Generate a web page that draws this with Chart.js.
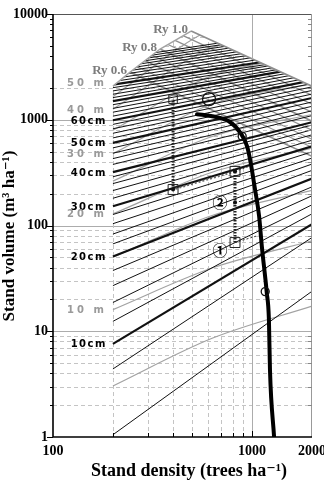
<!DOCTYPE html>
<html>
<head>
<meta charset="utf-8">
<script src="https://cdn.jsdelivr.net/npm/chart.js@4.4.1/dist/chart.umd.min.js"></script>
<style>
  html, body { margin: 0; padding: 0; background: #fff; }
  #wrap { width: 324px; height: 480px; position: relative; }
</style>
</head>
<body>
<div id="wrap"><canvas id="chart"></canvas></div>
<script>
// densities (trees/ha) where the guide lines are read
const startDensity = 200;
const midDensity = 630;
const endDensity = 2000;

// equal mean DBH lines (cm): volume at 200 and at 2000 trees/ha
// (the largest ones start above the 50 m edge and are cut by the mask)
const diamCm = [6, 8, 10, 12, 14, 16, 18, 20, 22, 24, 26, 28, 30, 32, 34, 36, 38, 40,
                42, 44, 46, 48, 50, 52, 54, 56, 58, 60, 62, 64, 66, 68, 70, 72, 74, 76,
                78, 80, 82, 84, 86, 88, 90, 92, 94, 96, 98, 100];
const diamVolStart = [1.05, 4.4, 7.6, 12.4, 18.7, 27, 37.5, 51, 67, 83, 104, 127, 152, 181, 214, 249, 289, 320,
                      378, 429, 483, 542, 605, 673, 745, 822, 904, 990, 1082, 1179, 1281, 1388, 1502, 1620, 1744, 1875,
                      2011, 2152, 2297, 2447, 2602, 2760, 2920, 3084, 3251, 3418, 3589, 3753];
const diamVolEnd = [23.9, 77, 103, 129, 157, 191, 232, 278, 332, 381, 434, 497, 560, 640, 721, 804, 891, 948,
                    1094, 1216, 1340, 1472, 1607, 1750, 1892, 2046, 2203, 2360, 2523, 2690, 2864, 3027, 3214, 3388, 3573, 3758,
                    3870, 4140, 4420, 4710, 5010, 5310, 5620, 5935, 6250, 6580, 6900, 7225];
const diamThick = [10, 20, 30, 40, 50, 60, 70, 80];
const diamLabelled = [60, 50, 40, 30, 20, 10];

// equal mean height lines (m)
const heightM = [5, 10, 15, 20, 25, 30, 35, 40, 45];
const heightVolStart = [3.04, 16.0, 50.2, 128.8, 263, 478, 795, 1259, 1660];
const heightVolMid = [8.58, 39.6, 124.4, 319, 695, 1409, 2612, 4808, 7210];
const heightVolEnd = [17.3, 71.5, 215, 539, 1122, 2180, 4045, 7430, 11150];
const heightLabelled = [40, 30, 20, 10];

// 50 m line = upper-left edge of the diagram
const topLineDensity = [200, 244, 345, 494];
const topLineVol = [2080, 2820, 4660, 6900];

// equal yield index (Ry) lines
const ryValues = [1.0, 0.95, 0.9, 0.85, 0.8, 0.75, 0.7, 0.65, 0.6];
const ryStartDensity = [494, 450, 410, 378, 345, 314, 290, 264, 244];
const ryStartVol = [6900, 6240, 5635, 5150, 4660, 4078, 3625, 3171, 2820];
const ryEndVol = [2080, 1708, 1403, 1178, 968, 795, 653, 549, 451];
const ryLabelled = [1.0, 0.8, 0.6];

// natural thinning curve (thick)
const curveDensity = [529, 630, 765, 870, 944, 977, 1035, 1085, 1120, 1185, 1215, 1230, 1290];
const curveVol = [1128, 1080, 968, 760, 561, 422, 219, 122, 63, 23.2, 12.9, 4.32, 1];

// thinning example: D -> C (growth), C -> B (thinning), B -> A (growth)
const pathDensity = [821, 821, 401, 401];
const pathVol = [69, 325, 219, 1565];
const midDotVol = 165;
const arrowStartVol = [69, 165, 325];
const arrowEndDensity = [1073, 1012, 1000];
const arrowEndVol = [80.4, 180, 371];

// open circles
const circleDensity = [608, 892, 1164];
const circleVol = [1565, 698, 23.7];
const circleSize = [6.5, 4, 4];

const xTickLabels = [100, 1000, 2000];
const yTickLabels = [1, 10, 100, 1000, 10000];

const serif = "'Liberation Serif', 'DejaVu Serif', serif";
const gothic = "'DejaVu Sans', 'Noto Sans', sans-serif";

const pts = (xs, ys) => xs.map((v, i) => ({ x: v, y: ys[i] }));

const datasets = [];

// height lines (grey)
heightM.forEach((h, i) => {
    datasets.push({
        label: h + ' m',
        data: [
            { x: startDensity, y: heightVolStart[i] },
            { x: midDensity, y: heightVolMid[i] },
            { x: endDensity, y: heightVolEnd[i] }
        ],
        borderColor: '#a2a2a2',
        borderWidth: 1.2,
        cubicInterpolationMode: 'monotone',
        order: 30
    });
});

// Ry lines (grey)
ryValues.forEach((r, i) => {
    datasets.push({
        label: 'Ry ' + r,
        data: [
            { x: ryStartDensity[i], y: ryStartVol[i] },
            { x: endDensity, y: ryEndVol[i] }
        ],
        borderColor: '#8e8e8e',
        borderWidth: ryLabelled.includes(r) ? 1.7 : 1.2,
        order: i === 0 ? 8 : 25
    });
});

// DBH lines (black)
diamCm.forEach((d, i) => {
    datasets.push({
        label: d + 'cm',
        data: [
            { x: startDensity, y: diamVolStart[i] },
            { x: endDensity, y: diamVolEnd[i] }
        ],
        borderColor: '#111',
        borderWidth: diamThick.includes(d) ? 2.2 : 1,
        order: 20
    });
});

// white mask above the 50 m line and Ry 1.0 line
datasets.push({
    label: 'mask',
    data: [{ x: 100, y: topLineVol[0] }]
        .concat(pts(topLineDensity, topLineVol))
        .concat([{ x: endDensity, y: ryEndVol[0] }]),
    borderColor: 'rgba(0,0,0,0)',
    borderWidth: 0,
    backgroundColor: '#ffffff',
    fill: 'end',
    order: 10
});

// 50 m line on top of the mask edge
datasets.push({
    label: '50 m',
    data: pts(topLineDensity, topLineVol),
    borderColor: '#a2a2a2',
    borderWidth: 1.4,
    order: 8
});

// thinning example path
datasets.push({
    label: 'growth 1',
    data: pts(pathDensity.slice(0, 2), pathVol.slice(0, 2)),
    borderColor: '#222',
    borderWidth: 3,
    borderDash: [1.5, 1.5],
    order: 5
});
datasets.push({
    label: 'thinning',
    data: pts(pathDensity.slice(1, 3), pathVol.slice(1, 3)),
    borderColor: '#666',
    borderWidth: 2,
    borderDash: [2, 2],
    order: 5
});
datasets.push({
    label: 'growth 2',
    data: pts(pathDensity.slice(2, 4), pathVol.slice(2, 4)),
    borderColor: '#222',
    borderWidth: 3,
    borderDash: [1.5, 1.5],
    order: 5
});
arrowStartVol.forEach((v, i) => {
    datasets.push({
        label: 'arrow ' + i,
        data: [{ x: pathDensity[0], y: v }, { x: arrowEndDensity[i], y: arrowEndVol[i] }],
        borderColor: '#333',
        borderWidth: 1,
        borderDash: [2, 2],
        order: 5
    });
});

// natural thinning curve
datasets.push({
    label: 'curve',
    data: pts(curveDensity, curveVol),
    borderColor: '#000',
    borderWidth: 4,
    cubicInterpolationMode: 'monotone',
    borderCapStyle: 'round',
    order: 3
});

// squares
datasets.push({
    label: 'squares',
    data: pts(pathDensity, pathVol),
    showLine: false,
    pointStyle: 'rect',
    pointRadius: [7, 7, 7, 6],
    pointBackgroundColor: 'rgba(255,255,255,0)',
    pointBorderColor: '#222',
    pointBorderWidth: 1,
    order: 1
});
datasets.push({
    label: 'dots',
    data: [{ x: pathDensity[1], y: pathVol[1] }, { x: pathDensity[2], y: pathVol[2] }, { x: pathDensity[0], y: midDotVol }],
    showLine: false,
    pointStyle: 'circle',
    pointRadius: 2,
    pointBackgroundColor: '#111',
    pointBorderWidth: 0,
    order: 1
});
datasets.push({
    label: 'circles',
    data: pts(circleDensity, circleVol),
    showLine: false,
    pointStyle: 'circle',
    pointRadius: circleSize,
    pointBackgroundColor: 'rgba(255,255,255,0)',
    pointBorderColor: '#111',
    pointBorderWidth: 1.3,
    order: 1
});

const decor = {
    id: 'decor',
    beforeDatasetsDraw(chart) {
        const { ctx, chartArea: a, scales: { x, y } } = chart;
        ctx.save();
        ctx.lineWidth = 1;
        for (let dec = 1; dec < 10000; dec *= 10) {
            for (let m = 1; m < 10; m++) {
                const v = m * dec;
                if (v <= 1) continue;
                const py = Math.round(y.getPixelForValue(v)) + 0.5;
                if (m === 1) { ctx.setLineDash([]); ctx.strokeStyle = '#acacac'; }
                else { ctx.setLineDash([4, 3]); ctx.strokeStyle = '#c4c4c4'; }
                ctx.beginPath();
                ctx.moveTo(a.left, py);
                ctx.lineTo(a.right, py);
                ctx.stroke();
            }
        }
        for (let m = 2; m <= 10; m++) {
            const px = Math.round(x.getPixelForValue(m * 100)) + 0.5;
            if (m === 10) { ctx.setLineDash([]); ctx.strokeStyle = '#acacac'; }
            else { ctx.setLineDash([4, 3]); ctx.strokeStyle = '#c4c4c4'; }
            ctx.beginPath();
            ctx.moveTo(px, a.top);
            ctx.lineTo(px, a.bottom);
            ctx.stroke();
        }
        ctx.restore();
    },
    afterDatasetsDraw(chart) {
        const { ctx, chartArea: a, scales: { x, y } } = chart;
        ctx.save();

        // 1000 trees line above the Ry 1.0 edge
        const xs = x.getPixelForValue(ryStartDensity[0]), ys = y.getPixelForValue(ryStartVol[0]);
        const xe = x.getPixelForValue(endDensity), ye = y.getPixelForValue(ryEndVol[0]);
        const x1000 = Math.round(x.getPixelForValue(1000)) + 0.5;
        const yEdge = ys + (x1000 - xs) / (xe - xs) * (ye - ys);
        ctx.strokeStyle = '#acacac';
        ctx.lineWidth = 1;
        ctx.beginPath();
        ctx.moveTo(x1000, a.top);
        ctx.lineTo(x1000, yEdge);
        ctx.stroke();

        // frame
        ctx.strokeStyle = '#555';
        ctx.beginPath();
        ctx.moveTo(a.left, a.top + 0.5);
        ctx.lineTo(a.right, a.top + 0.5);
        ctx.stroke();
        ctx.strokeStyle = '#999';
        ctx.beginPath();
        ctx.moveTo(a.right - 0.5, a.top);
        ctx.lineTo(a.right - 0.5, a.bottom);
        ctx.stroke();
        ctx.strokeStyle = '#000';
        ctx.lineWidth = 1.6;
        ctx.beginPath();
        ctx.moveTo(a.left, a.top);
        ctx.lineTo(a.left, a.bottom);
        ctx.lineTo(a.right, a.bottom);
        ctx.stroke();

        // ticks
        ctx.lineWidth = 1;
        for (let dec = 1; dec <= 10000; dec *= 10) {
            for (let m = 1; m < 10; m++) {
                const v = m * dec;
                if (v > 10000) break;
                const py = Math.round(y.getPixelForValue(v)) + 0.5;
                const len = m === 1 ? 6 : 3;
                ctx.strokeStyle = '#000';
                ctx.beginPath();
                ctx.moveTo(a.left - len, py);
                ctx.lineTo(a.left, py);
                ctx.stroke();
                if (m !== 1) {
                    ctx.strokeStyle = '#888';
                    ctx.beginPath();
                    ctx.moveTo(a.right - 4, py);
                    ctx.lineTo(a.right, py);
                    ctx.stroke();
                }
            }
        }
        ctx.strokeStyle = '#000';
        [200, 300, 400, 500, 600, 700, 800, 900, 1000].forEach(v => {
            const px = Math.round(x.getPixelForValue(v)) + 0.5;
            ctx.beginPath();
            ctx.moveTo(px, a.bottom);
            ctx.lineTo(px, a.bottom - (v === 1000 ? 6 : 4));
            ctx.stroke();
        });

        // line labels at the left edge
        const lx = x.getPixelForValue(startDensity) - 6;
        ctx.textAlign = 'right';
        ctx.textBaseline = 'middle';
        ctx.font = 'bold 10px ' + gothic;
        ctx.letterSpacing = '1.5px';
        ctx.fillStyle = '#000';
        diamLabelled.forEach(d => {
            const i = diamCm.indexOf(d);
            ctx.fillText(d + 'cm', lx, y.getPixelForValue(diamVolStart[i]) + 1);
        });
        ctx.letterSpacing = '3px';
        ctx.fillStyle = '#9a9a9a';
        ctx.fillText('50 m', lx, y.getPixelForValue(topLineVol[0]) - 3);
        heightLabelled.forEach(h => {
            const i = heightM.indexOf(h);
            ctx.fillText(h + ' m', lx, y.getPixelForValue(heightVolStart[i]) + 1);
        });
        ctx.letterSpacing = '0px';

        // Ry labels
        ctx.font = 'bold 13px ' + serif;
        ctx.fillStyle = '#7c7c7c';
        ryLabelled.forEach(r => {
            const i = ryValues.indexOf(r);
            ctx.fillText('Ry ' + r.toFixed(1), x.getPixelForValue(ryStartDensity[i]) - 3,
                         y.getPixelForValue(ryStartVol[i]) - 1);
        });

        // circled step numbers
        ctx.textAlign = 'center';
        ctx.fillStyle = '#000';
        ctx.font = "bold 15px 'Noto Sans CJK JP', 'DejaVu Sans', sans-serif";
        const px0 = x.getPixelForValue(pathDensity[0]);
        ctx.fillText('\u2460', px0 - 15, y.getPixelForValue(pathVol[0]) + 8);
        ctx.fillText('\u2461', px0 - 15, y.getPixelForValue(midDotVol));

        // axis titles
        ctx.fillStyle = '#000';
        ctx.font = 'bold 18px ' + serif;
        ctx.fillText('Stand density (trees ha\u207B\u00B9)', 189, 471);
        ctx.font = 'bold 17px ' + serif;
        ctx.translate(10, 236);
        ctx.rotate(-Math.PI / 2);
        ctx.fillText('Stand volume (m\u00B3 ha\u207B\u00B9)', 0, 0);
        ctx.restore();
    }
};

new Chart(document.getElementById('chart'), {
    type: 'line',
    data: { datasets: datasets },
    plugins: [decor],
    options: {
        responsive: true,
        maintainAspectRatio: false,
        animation: false,
        events: [],
        layout: { padding: { top: 14, right: 12, left: 0, bottom: 0 } },
        plugins: { legend: { display: false }, tooltip: { enabled: false } },
        elements: { point: { radius: 0 }, line: { tension: 0 } },
        scales: {
            x: {
                type: 'logarithmic',
                min: 100,
                max: 2000,
                grid: { display: false, drawTicks: false },
                border: { display: false },
                ticks: {
                    autoSkip: false,
                    maxRotation: 0,
                    padding: 6,
                    color: '#000',
                    font: { family: serif, size: 14, weight: 'bold' },
                    callback: v => xTickLabels.includes(v) ? String(v) : ''
                },
                afterFit: s => { s.height = 43; s.paddingLeft = 0; s.paddingRight = 0; }
            },
            y: {
                type: 'logarithmic',
                min: 1,
                max: 10000,
                grid: { display: false, drawTicks: false },
                border: { display: false },
                ticks: {
                    autoSkip: false,
                    padding: 5,
                    color: '#000',
                    font: { family: serif, size: 14, weight: 'bold' },
                    callback: v => yTickLabels.includes(v) ? String(v) : ''
                },
                afterFit: s => { s.width = 53; s.paddingTop = 0; s.paddingBottom = 0; }
            }
        }
    }
});
</script>
</body>
</html>
